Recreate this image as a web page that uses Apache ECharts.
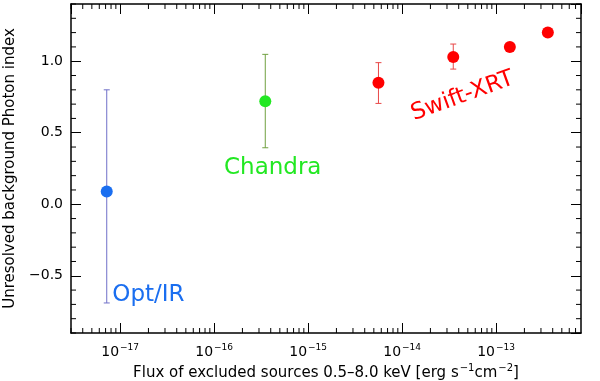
<!DOCTYPE html>
<html>
<head>
<meta charset="utf-8">
<script src="https://cdn.jsdelivr.net/npm/echarts@6/dist/echarts.min.js"></script>
<style>
  html, body { margin: 0; padding: 0; background: #fff; }
  #main { width: 600px; height: 381px; }
</style>
</head>
<body>
<div id="main"></div>
<script>
// 数据点 (flux, photon index, err low, err high)
var optFlux = [7.2e-18];
var optIndex = [0.09];
var optLow = [-0.69];
var optHigh = [0.80];

var chandraFlux = [3.5e-16];
var chandraIndex = [0.72];
var chandraLow = [0.395];
var chandraHigh = [1.048];

var swiftFlux = [5.6e-15, 3.5e-14, 1.4e-13, 3.55e-13];
var swiftIndex = [0.85, 1.03, 1.10, 1.20];
var swiftLow = [0.705, 0.945, null, null];
var swiftHigh = [0.99, 1.12, null, null];

// 标签
var labelTexts = ['Opt/IR', 'Chandra', 'Swift-XRT'];
var labelFlux = [2.0e-17, 4.2e-16, 4.4e-14];
var labelIndex = [-0.635, 0.253, 0.755];

var xMin = 3e-18, xMax = 8e-13;
var yMin = -0.9, yMax = 1.4;

var chart = echarts.init(document.getElementById('main'));

// 误差棒
function errData(flux, low, high) {
  var out = [];
  for (var i = 0; i < flux.length; i++) {
    if (low[i] != null) out.push([flux[i], low[i], high[i]]);
  }
  return out;
}
function errSeries(data, color) {
  return {
    type: 'custom',
    silent: true,
    data: data,
    z: 2,
    renderItem: function(params, api) {
      var lo = api.coord([api.value(0), api.value(1)]);
      var hi = api.coord([api.value(0), api.value(2)]);
      var cap = 3;
      var st = { stroke: color, lineWidth: 1 };
      return {
        type: 'group',
        children: [
          { type: 'line', shape: { x1: lo[0], y1: lo[1], x2: hi[0], y2: hi[1] }, style: st },
          { type: 'line', shape: { x1: lo[0] - cap, y1: lo[1], x2: lo[0] + cap, y2: lo[1] }, style: st },
          { type: 'line', shape: { x1: hi[0] - cap, y1: hi[1], x2: hi[0] + cap, y2: hi[1] }, style: st }
        ]
      };
    }
  };
}
function pts(flux, idx) {
  return flux.map(function(f, i) { return [f, idx[i]]; });
}

// 次刻度
var xMinor = [];
for (var d = -18; d <= -13; d++) {
  for (var m = 2; m <= 9; m++) {
    var v = m * Math.pow(10, d);
    if (v > xMin && v < xMax) xMinor.push(v);
  }
}
var yMinor = [];
for (var k = -9; k <= 14; k++) {
  if (k % 5 !== 0) yMinor.push(k / 10);
}

var supRich = {
  b: { fontSize: 15, fontFamily: 'DejaVu Sans', color: '#000' },
  s: { fontSize: 10, fontFamily: 'DejaVu Sans', color: '#000', verticalAlign: 'bottom', padding: [0, 0, 9, 1] }
};
var tickRich = {
  b: { fontSize: 14, fontFamily: 'DejaVu Sans', color: '#000' },
  s: { fontSize: 9, fontFamily: 'DejaVu Sans', color: '#000', verticalAlign: 'bottom', padding: [0, 0, 9, 1] }
};

var frameLine = { show: true, onZero: false, lineStyle: { color: '#000', width: 1.5 } };

var option = {
  animation: false,
  backgroundColor: '#fff',
  grid: { left: 71, right: 19, top: 4, bottom: 48, containLabel: false, outerBoundsMode: 'none' },
  xAxis: [
    {
      type: 'log',
      min: xMin,
      max: xMax,
      position: 'bottom',
      name: '{b|Flux of excluded sources 0.5\u20138.0 keV [erg s}{s|\u22121}{b|cm}{s|\u22122}{b|]}',
      nameLocation: 'middle',
      nameGap: 28,
      nameTextStyle: { rich: supRich },
      axisLine: frameLine,
      axisTick: { inside: true, length: 10, lineStyle: { color: '#000' } },
      axisLabel: {
        margin: 10,
        showMinLabel: false,
        showMaxLabel: false,
        formatter: function(v) {
          var e = Math.round(Math.log10(v));
          return '{b|10}{s|' + (e < 0 ? '\u2212' + (-e) : e) + '}';
        },
        rich: tickRich
      },
      splitLine: { show: false }
    },
    {
      type: 'log',
      min: xMin,
      max: xMax,
      position: 'top',
      axisLine: frameLine,
      axisTick: { inside: true, length: 10, lineStyle: { color: '#000' } },
      axisLabel: { show: false },
      splitLine: { show: false }
    }
  ],
  yAxis: [
    {
      type: 'value',
      min: yMin,
      max: yMax,
      position: 'left',
      name: 'Unresolved background Photon index',
      nameLocation: 'middle',
      nameGap: 47,
      nameTextStyle: { fontSize: 15, fontFamily: 'DejaVu Sans', color: '#000' },
      axisLine: frameLine,
      axisTick: { show: true, inside: true, length: 10, lineStyle: { color: '#000' } },
      axisLabel: {
        margin: 8,
        showMinLabel: false,
        showMaxLabel: false,
        fontSize: 14,
        fontFamily: 'DejaVu Sans',
        color: '#000',
        formatter: function(v) {
          return (v < 0 ? '\u2212' : '') + Math.abs(v).toFixed(1);
        }
      },
      splitLine: { show: false }
    },
    {
      type: 'value',
      min: yMin,
      max: yMax,
      position: 'right',
      axisLine: frameLine,
      axisTick: { show: true, inside: true, length: 10, lineStyle: { color: '#000' } },
      axisLabel: { show: false },
      splitLine: { show: false }
    }
  ],
  series: [
    {
      type: 'custom',
      silent: true,
      data: xMinor,
      renderItem: function(params, api) {
        var p = api.coord([api.value(0), 0]);
        var cs = params.coordSys;
        var st = { stroke: '#000', lineWidth: 1 };
        return {
          type: 'group',
          children: [
            { type: 'line', shape: { x1: p[0], y1: cs.y + cs.height, x2: p[0], y2: cs.y + cs.height - 5 }, style: st },
            { type: 'line', shape: { x1: p[0], y1: cs.y, x2: p[0], y2: cs.y + 5 }, style: st }
          ]
        };
      },
      encode: { x: 0 }
    },
    {
      type: 'custom',
      silent: true,
      data: yMinor,
      renderItem: function(params, api) {
        var p = api.coord([xMin, api.value(0)]);
        var cs = params.coordSys;
        var st = { stroke: '#000', lineWidth: 1 };
        return {
          type: 'group',
          children: [
            { type: 'line', shape: { x1: cs.x, y1: p[1], x2: cs.x + 5, y2: p[1] }, style: st },
            { type: 'line', shape: { x1: cs.x + cs.width, y1: p[1], x2: cs.x + cs.width - 5, y2: p[1] }, style: st }
          ]
        };
      },
      encode: { y: 0 }
    },
    errSeries(errData(optFlux, optLow, optHigh), '#7070c8'),
    errSeries(errData(chandraFlux, chandraLow, chandraHigh), '#70a040'),
    errSeries(errData(swiftFlux, swiftLow, swiftHigh), '#e84848'),
    { type: 'scatter', data: pts(optFlux, optIndex), symbolSize: 12, itemStyle: { color: '#1a6ef0', opacity: 1 }, z: 3 },
    { type: 'scatter', data: pts(chandraFlux, chandraIndex), symbolSize: 12, itemStyle: { color: '#22e822', opacity: 1 }, z: 3 },
    { type: 'scatter', data: pts(swiftFlux, swiftIndex), symbolSize: 12, itemStyle: { color: '#ff0000', opacity: 1 }, z: 3 },
    {
      type: 'scatter',
      silent: true,
      symbolSize: 0,
      itemStyle: { opacity: 1 },
      data: labelTexts.map(function(t, i) {
        var colors = ['#1a6ef0', '#22e822', '#ff0000'];
        return {
          value: [labelFlux[i], labelIndex[i]],
          label: {
            show: true,
            position: 'inside',
            formatter: t,
            fontSize: 23,
            fontFamily: 'DejaVu Sans',
            color: colors[i],
            opacity: 1,
            rotate: i === 2 ? 20 : 0
          }
        };
      })
    }
  ]
};
chart.setOption(option);
</script>
</body>
</html>
